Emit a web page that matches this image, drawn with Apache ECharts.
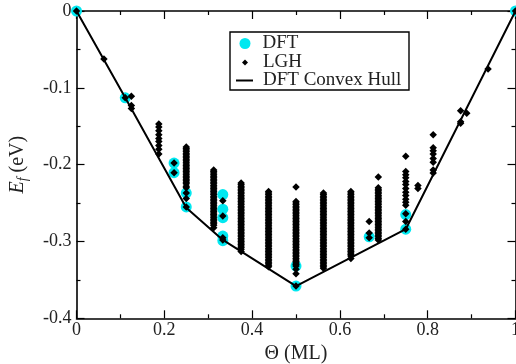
<!DOCTYPE html>
<html>
<head>
<meta charset="utf-8">
<script src="https://cdn.jsdelivr.net/npm/echarts@6/dist/echarts.min.js"></script>
<style>html,body{margin:0;padding:0;background:#fff;}#c{width:516px;height:364px;}</style>
</head>
<body>
<div id="c"></div>
<script>
// ---- data ----
const xTickLabels = ['0', '0.2', '0.4', '0.6', '0.8', '1'];
const yTickLabels = ['-0.4', '-0.3', '-0.2', '-0.1', '0'];

// DFT calculated formation energies (theta, Ef)
const dftTheta = [0, 0.1111, 0.2222, 0.2222, 0.25, 0.25, 0.3333, 0.3333, 0.3333, 0.3333, 0.3333, 0.5, 0.5, 0.6667, 0.75, 0.75, 1];
const dftE = [0, -0.113, -0.198, -0.2105, -0.237, -0.255, -0.239, -0.258, -0.269, -0.293, -0.299, -0.332, -0.358, -0.294, -0.265, -0.284, 0];

// LGH formation energies, grouped by coverage
const lghTheta = [0, 0.0625, 0.1111, 0.125, 0.1875, 0.2222, 0.25, 0.3125, 0.3333, 0.375, 0.4375, 0.5, 0.5625, 0.625, 0.6667, 0.6875, 0.75, 0.7778, 0.8125, 0.875, 0.8889, 0.9375, 1];
const lghE = [
  [0],
  [-0.0625],
  [-0.113],
  [-0.111, -0.123, -0.127],
  [-0.147, -0.151, -0.156, -0.161, -0.166, -0.170, -0.175, -0.180, -0.186],
  [-0.198, -0.2105],
  [-0.177, -0.179, -0.181, -0.183, -0.185, -0.187, -0.189, -0.191, -0.193, -0.195, -0.197, -0.199, -0.201, -0.203, -0.205, -0.207, -0.209, -0.211, -0.213, -0.215, -0.217, -0.219, -0.221, -0.223, -0.225, -0.228, -0.230, -0.237, -0.244, -0.255],
  [-0.207, -0.209, -0.211, -0.213, -0.215, -0.217, -0.219, -0.221, -0.223, -0.225, -0.227, -0.229, -0.231, -0.233, -0.235, -0.237, -0.239, -0.241, -0.243, -0.245, -0.247, -0.249, -0.251, -0.253, -0.255, -0.257, -0.259, -0.261, -0.263, -0.265, -0.267, -0.269, -0.271, -0.273, -0.275, -0.277, -0.279, -0.282],
  [-0.247, -0.267, -0.295, -0.298],
  [-0.224, -0.226, -0.228, -0.230, -0.232, -0.234, -0.236, -0.238, -0.240, -0.242, -0.244, -0.246, -0.248, -0.250, -0.252, -0.254, -0.256, -0.258, -0.260, -0.262, -0.264, -0.266, -0.268, -0.270, -0.272, -0.274, -0.276, -0.278, -0.280, -0.282, -0.284, -0.286, -0.288, -0.290, -0.292, -0.294, -0.296, -0.298, -0.300, -0.302, -0.304, -0.306, -0.308, -0.310, -0.313],
  [-0.235, -0.237, -0.239, -0.241, -0.243, -0.245, -0.247, -0.249, -0.251, -0.253, -0.255, -0.257, -0.259, -0.261, -0.263, -0.265, -0.267, -0.269, -0.271, -0.273, -0.275, -0.277, -0.279, -0.281, -0.283, -0.285, -0.287, -0.289, -0.291, -0.293, -0.295, -0.297, -0.299, -0.301, -0.303, -0.305, -0.307, -0.309, -0.311, -0.313, -0.315, -0.317, -0.319, -0.321, -0.323, -0.325, -0.327, -0.329, -0.331, -0.333],
  [-0.229, -0.248, -0.250, -0.252, -0.254, -0.256, -0.258, -0.260, -0.262, -0.264, -0.266, -0.268, -0.270, -0.272, -0.274, -0.276, -0.278, -0.280, -0.282, -0.284, -0.286, -0.288, -0.290, -0.292, -0.294, -0.296, -0.298, -0.300, -0.302, -0.304, -0.306, -0.308, -0.310, -0.312, -0.314, -0.316, -0.318, -0.320, -0.322, -0.324, -0.326, -0.328, -0.330, -0.332, -0.336, -0.342, -0.358],
  [-0.237, -0.239, -0.241, -0.243, -0.245, -0.247, -0.249, -0.251, -0.253, -0.255, -0.257, -0.259, -0.261, -0.263, -0.265, -0.267, -0.269, -0.271, -0.273, -0.275, -0.277, -0.279, -0.281, -0.283, -0.285, -0.287, -0.289, -0.291, -0.293, -0.295, -0.297, -0.299, -0.301, -0.303, -0.305, -0.307, -0.309, -0.311, -0.313, -0.315, -0.317, -0.319, -0.321, -0.323, -0.325, -0.327, -0.329, -0.331, -0.333, -0.335],
  [-0.235, -0.237, -0.239, -0.241, -0.243, -0.245, -0.247, -0.249, -0.251, -0.253, -0.255, -0.257, -0.259, -0.261, -0.263, -0.265, -0.267, -0.269, -0.271, -0.273, -0.275, -0.277, -0.279, -0.281, -0.283, -0.285, -0.287, -0.289, -0.291, -0.293, -0.295, -0.297, -0.299, -0.301, -0.303, -0.305, -0.307, -0.309, -0.311, -0.313, -0.315, -0.317, -0.319, -0.322],
  [-0.274, -0.289, -0.295],
  [-0.216, -0.230, -0.232, -0.234, -0.236, -0.238, -0.240, -0.242, -0.244, -0.246, -0.248, -0.250, -0.252, -0.254, -0.256, -0.258, -0.260, -0.262, -0.264, -0.266, -0.268, -0.270, -0.272, -0.274, -0.276, -0.278, -0.280, -0.282, -0.284, -0.286, -0.288, -0.290, -0.292, -0.294, -0.296, -0.298],
  [-0.189, -0.209, -0.213, -0.217, -0.222, -0.226, -0.231, -0.236, -0.240, -0.245, -0.249, -0.253, -0.264, -0.274, -0.284],
  [-0.227, -0.231],
  [-0.161, -0.178, -0.182, -0.186, -0.192, -0.197, -0.207, -0.211],
  [-0.130, -0.144, -0.146],
  [-0.133],
  [-0.0755],
  [0]
];

// DFT convex hull vertices
const hullTheta = [0, 0.1111, 0.25, 0.3333, 0.5, 0.625, 0.75, 1];
const hullE = [0, -0.113, -0.256, -0.298, -0.358, -0.321, -0.284, 0];

// ---- build series data ----
const dftData = dftTheta.map((t, i) => [t, dftE[i]]);
const lghData = [];
lghTheta.forEach((t, i) => lghE[i].forEach(e => lghData.push([t, e])));
const hullData = hullTheta.map((t, i) => [t, hullE[i]]);

const FONT = 'Liberation Serif';
const TXT = '#222';

function axisCommon() {
  return {
    type: 'value',
    axisLine: { show: true, onZero: false, lineStyle: { color: '#000', width: 1.6 } },
    axisTick: { show: true, inside: true, length: 8, lineStyle: { color: '#000', width: 1.2 } },
    minorTick: { show: true, splitNumber: 2, length: 4, lineStyle: { color: '#000', width: 1.2 } },
    splitLine: { show: false },
    minorSplitLine: { show: false }
  };
}

const chart = echarts.init(document.getElementById('c'), null, { renderer: 'canvas' });
const option = {
  animation: false,
  backgroundColor: '#fff',
  grid: { left: 76.5, right: 0.5, top: 11, bottom: 45.7, containLabel: false, outerBoundsMode: 'none' },
  xAxis: [
    Object.assign(axisCommon(), {
      min: 0, max: 1, interval: 0.2, position: 'bottom',
      axisLabel: { show: true, fontFamily: FONT, fontSize: 18, color: TXT, margin: 3,
        formatter: (v, i) => xTickLabels[i] },
      name: 'Θ (ML)', nameLocation: 'middle', nameGap: 21,
      nameTextStyle: { fontFamily: FONT, fontSize: 20, color: TXT }
    }),
    Object.assign(axisCommon(), {
      min: 0, max: 1, interval: 0.2, position: 'top',
      axisLabel: { show: false }
    })
  ],
  yAxis: [
    Object.assign(axisCommon(), {
      min: -0.4, max: 0, interval: 0.1, position: 'left',
      axisLabel: { show: true, fontFamily: FONT, fontSize: 18, color: TXT, margin: 5,
        formatter: (v, i) => yTickLabels[i] },
      name: '{i|E}{s|f}{n| (eV)}', nameLocation: 'middle', nameGap: 46,
      nameTextStyle: {
        fontFamily: FONT, fontSize: 20, color: TXT,
        rich: {
          i: { fontFamily: FONT, fontSize: 20, fontStyle: 'italic', color: TXT, lineHeight: 26, verticalAlign: 'middle' },
          s: { fontFamily: FONT, fontSize: 14, fontStyle: 'italic', color: TXT, lineHeight: 12, verticalAlign: 'bottom' },
          n: { fontFamily: FONT, fontSize: 20, color: TXT, lineHeight: 26, verticalAlign: 'middle' }
        }
      }
    }),
    Object.assign(axisCommon(), {
      min: -0.4, max: 0, interval: 0.1, position: 'right',
      axisLabel: { show: false }
    })
  ],
  legend: [
    { data: [{ name: 'DFT', icon: 'circle' }], selectedMode: false, orient: 'vertical',
      left: 239.5, top: 34, padding: 0, itemWidth: 11, itemHeight: 11,
      itemStyle: { opacity: 1 },
      textStyle: { fontFamily: FONT, fontSize: 19, color: TXT, lineHeight: 18, padding: [0, 0, 0, 7] } },
    { data: [{ name: 'LGH', icon: 'diamond' }], selectedMode: false, orient: 'vertical',
      left: 242, top: 53, padding: 0, itemWidth: 6, itemHeight: 6,
      itemStyle: { opacity: 1 },
      textStyle: { fontFamily: FONT, fontSize: 19, color: TXT, lineHeight: 18, padding: [0, 0, 0, 10] } },
    { data: [{ name: 'DFT Convex Hull', icon: 'rect' }], selectedMode: false, orient: 'vertical',
      left: 236, top: 71, padding: 0, itemWidth: 17, itemHeight: 2,
      itemStyle: { color: '#000', opacity: 1 },
      textStyle: { fontFamily: FONT, fontSize: 19, color: TXT, lineHeight: 18, padding: [0, 0, 0, 5] } }
  ],
  graphic: [
    { type: 'rect', z: 3, shape: { x: 230, y: 32, width: 179, height: 58 },
      style: { fill: '#fff', stroke: '#000', lineWidth: 1.4 } }
  ],
  series: [
    { name: 'DFT', type: 'scatter', data: dftData, symbol: 'circle', symbolSize: 11,
      itemStyle: { color: '#00e8f0', opacity: 1 }, z: 2, silent: true },
    { name: 'LGH', type: 'scatter', data: lghData, symbol: 'diamond', symbolSize: 7.5,
      itemStyle: { color: '#000', opacity: 1 }, z: 3, silent: true, large: false },
    { name: 'DFT Convex Hull', type: 'line', data: hullData, showSymbol: false, symbol: 'none',
      lineStyle: { color: '#000', width: 2 }, itemStyle: { color: '#000' }, z: 4, silent: true }
  ]
};
chart.setOption(option);
</script>
</body>
</html>
